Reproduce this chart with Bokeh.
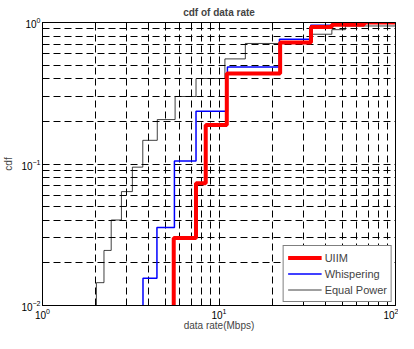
from bokeh.plotting import figure
from bokeh.models import FixedTicker, LogAxis, Legend, LegendItem, Range1d
from bokeh.embed import file_html
from bokeh.resources import INLINE

# UIIM step CDF (x: data rate in Mbps, y: cdf level reached at that rate)
uiim_x = [5.54, 5.54, 7.41, 8.41, 11.07, 22.2, 33.2, 43.6, 66.3, 100]
uiim_y = [0.005, 0.030, 0.073, 0.189, 0.436, 0.723, 0.93, 0.965, 1.0, 1.0]

# Whispering
wh_x = [3.71, 3.71, 4.45, 5.59, 7.41, 11.16, 22.0, 33.1, 43.5, 66.0, 100]
wh_y = [0.005, 0.0156, 0.0356, 0.105, 0.236, 0.484, 0.762, 0.957, 0.975, 0.99, 1.0]

# Equal Power
eq_x = [2.02, 2.02, 2.23, 2.45, 2.80, 3.23, 3.70, 4.47, 5.64, 7.41, 10.8, 14.1, 33.1, 43.6, 52.0, 100]
eq_y = [0.005, 0.0145, 0.0245, 0.0402, 0.0638, 0.095, 0.147, 0.206, 0.300, 0.402, 0.553, 0.711, 0.826, 0.89, 0.945, 0.945]

x_major = [1, 10, 100]
x_minor = [2, 3, 4, 5, 6, 7, 8, 9, 20, 30, 40, 50, 60, 70, 80, 90]
y_major = [0.01, 0.1, 1]
y_minor = [0.02, 0.03, 0.04, 0.05, 0.06, 0.07, 0.08, 0.09, 0.2, 0.3, 0.4, 0.5, 0.6, 0.7, 0.8, 0.9]

FONT = "Liberation Sans"

p = figure(width=398, height=333, x_axis_type="log", y_axis_type="log",
           x_range=Range1d(1, 100), y_range=Range1d(0.01, 1),
           output_backend="svg", toolbar_location=None,
           title="cdf of data rate",
           min_border_left=30, min_border_right=3, min_border_top=10, min_border_bottom=0)

p.title.align = "center"
p.title.text_font = FONT
p.title.text_font_size = "10px"
p.title.text_font_style = "bold"
p.title.offset = 0
p.title.standoff = 9

xt = FixedTicker(ticks=x_major, minor_ticks=x_minor)
yt = FixedTicker(ticks=y_major, minor_ticks=y_minor)

for ax in p.xaxis:
    ax.ticker = xt
for ax in p.yaxis:
    ax.ticker = yt

def style_axis(ax, show_labels=True):
    ax.axis_line_color = "black"
    ax.major_tick_line_color = "black"
    ax.minor_tick_line_color = "black"
    ax.major_tick_in = 5
    ax.major_tick_out = 0
    ax.minor_tick_in = 3
    ax.minor_tick_out = 0
    ax.major_label_text_font = FONT
    ax.major_label_text_font_size = "10px" if show_labels else "0px"
    ax.major_label_text_color = "black"
    ax.major_label_standoff = 2 if show_labels else 0
    ax.axis_label_text_font = FONT
    ax.axis_label_text_font_size = "10px"
    ax.axis_label_text_font_style = "normal"
    ax.axis_label_standoff = 1

p.xaxis.axis_label = "data rate(Mbps)"
p.yaxis.axis_label = "cdf"
for ax in p.xaxis:
    style_axis(ax)
    ax.axis_label_standoff = -2
for ax in p.yaxis:
    style_axis(ax)
    ax.axis_label_standoff = 4

top_ax = LogAxis(ticker=xt)
style_axis(top_ax, False)
top_ax.major_label_text_color = None
p.add_layout(top_ax, "above")

for g in (p.xgrid, p.ygrid):
    g.grid_line_color = "black"
    g.grid_line_dash = "7 4"
    g.grid_line_width = 1
    g.minor_grid_line_color = "black"
    g.minor_grid_line_dash = "7 4"
    g.minor_grid_line_width = 1

p.outline_line_color = "black"
p.background_fill_color = "white"
p.border_fill_color = "white"

r_eq = p.step(eq_x, eq_y, mode="after", line_color="black", line_width=1, line_alpha=0.75)
r_wh = p.step(wh_x, wh_y, mode="after", line_color="blue", line_width=1.5)
r_ui = p.step(uiim_x, uiim_y, mode="after", line_color="red", line_width=4)

legend = Legend(items=[LegendItem(label="UIIM", renderers=[r_ui]),
                       LegendItem(label="Whispering", renderers=[r_wh]),
                       LegendItem(label="Equal Power", renderers=[r_eq])],
                location="bottom_right")
legend.label_text_font = FONT
legend.label_text_font_size = "11px"
legend.glyph_width = 34
legend.glyph_height = 15
legend.label_height = 15
legend.spacing = 1
legend.padding = 4
legend.margin = 3
legend.label_standoff = 3
legend.border_line_color = "black"
legend.border_line_width = 1
legend.background_fill_alpha = 1
p.add_layout(legend)

open("out.html", "w").write(file_html(p, INLINE))
